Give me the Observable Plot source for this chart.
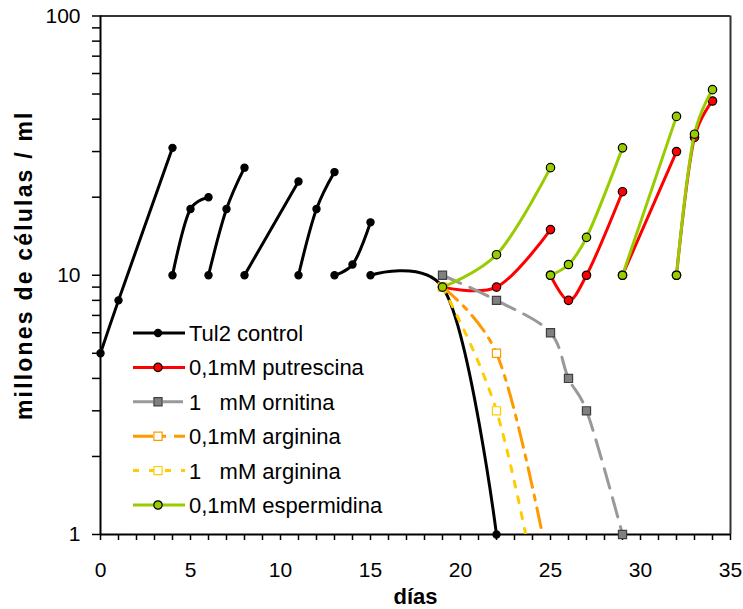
<!DOCTYPE html>
<html><head><meta charset="utf-8">
<script src="https://cdn.jsdelivr.net/npm/d3@7"></script>
<script src="https://cdn.jsdelivr.net/npm/@observablehq/plot@0.6"></script>
<style>
html,body{margin:0;padding:0;background:#fff;}
#wrap{position:relative;width:743px;height:609px;overflow:hidden;}
#legend{position:absolute;left:0;top:0;pointer-events:none;}
</style></head><body><div id="wrap"></div>
<script>
// ---- data ----
const legendNames = ["Tul2 control", "0,1mM putrescina", "1   mM ornitina", "0,1mM arginina", "1   mM arginina", "0,1mM espermidina"];
const xLabel = "días";
const yLabel = "millones de células / ml";
const xTickLabels = [0, 5, 10, 15, 20, 25, 30, 35];
const yTickLabels = [1, 10, 100];
const yTicks = [1,2,3,4,5,6,7,8,9,10,20,30,40,50,60,70,80,90,100];

const controlDays     = [0, 1, 4,  4, 5, 6,  6, 7, 8,  8, 11,  11, 12, 13,  13, 14, 15,  15, 19, 22];
const controlValues   = [5, 8, 31, 10, 18, 20, 10, 18, 26, 10, 23, 10, 18, 25, 10, 11, 16, 10, 9, 1];
const controlSegments = [0, 0, 0,  1, 1, 1,  2, 2, 2,  3, 3,   4, 4, 4,   5, 5, 5,   6, 6, 6];

const putrescinaDays     = [19, 22, 25,  25, 26, 27, 29,  29, 32,  32, 33, 34];
const putrescinaValues   = [9, 9, 15,    10, 8, 10, 21,   10, 30,  10, 34, 47];
const putrescinaSegments = [0, 0, 0,     1, 1, 1, 1,      2, 2,    3, 3, 3];

const ornitinaDays   = [19, 22, 25, 26, 27, 29];
const ornitinaValues = [10, 8, 6, 4, 3, 1];

const arginina01Days   = [19, 22, 25];
const arginina01Values = [9, 5, 0.7];

const arginina1Days   = [19, 22, 25];
const arginina1Values = [9, 3, 0.33];

const espermidinaDays     = [19, 22, 25,  25, 26, 27, 29,  29, 32,  32, 33, 34];
const espermidinaValues   = [9, 12, 26,   10, 11, 14, 31,  10, 41,  10, 35, 52];
const espermidinaSegments = [0, 0, 0,     1, 1, 1, 1,      2, 2,    3, 3, 3];

// ---- build tables ----
function table(days, values, segs) {
  return days.map((d, i) => ({day: d, value: values[i], seg: segs ? segs[i] : 0}));
}
const font = "'Liberation Sans', Arial, sans-serif";
const series = [
  {data: table(controlDays, controlValues, controlSegments), stroke: "#000000", width: 3, dash: null, symbol: "circle", r: 3.6, fill: "#000000", mstroke: "#000000"},
  {data: table(putrescinaDays, putrescinaValues, putrescinaSegments), stroke: "#ff0000", width: 3, dash: null, symbol: "circle", r: 4.2, fill: "#ff0000", mstroke: "#000000"},
  {data: table(ornitinaDays, ornitinaValues), stroke: "#999999", width: 3, dash: "20,10", symbol: "square", r: 4.6, fill: "#808080", mstroke: "#404040"},
  {data: table(arginina01Days, arginina01Values), stroke: "#ff9900", width: 3, dash: "20,8,5,8", symbol: "square", r: 4.6, fill: "#ffffff", mstroke: "#ff9900"},
  {data: table(arginina1Days, arginina1Values), stroke: "#ffcc00", width: 3, dash: "6,10", symbol: "square", r: 4.6, fill: "#ffffff", mstroke: "#ffcc00"},
  {data: table(espermidinaDays, espermidinaValues, espermidinaSegments), stroke: "#99cc00", width: 3, dash: null, symbol: "circle", r: 4.2, fill: "#99cc00", mstroke: "#000000"}
];

const marks = [
  Plot.ruleX([35], {stroke: "#333333", strokeWidth: 2}),
  Plot.ruleY([100], {stroke: "#333333", strokeWidth: 2}),
  Plot.axisY({ticks: yTicks, tickSize: 8, tickPadding: 12, strokeWidth: 1.5, label: null,
              tickFormat: d => yTickLabels.includes(d) ? String(d) : "", fontSize: 21}),
  Plot.axisX({ticks: d3.range(0, 36), tickSize: 6, tickPadding: 22, strokeWidth: 1.5, label: null,
              tickFormat: d => xTickLabels.includes(d) ? String(d) : "", fontSize: 21}),
  Plot.ruleX([0], {stroke: "#000", strokeWidth: 2}),
  Plot.ruleY([1], {stroke: "#000", strokeWidth: 2})
];
for (const s of series) {
  marks.push(Plot.line(s.data, {x: "day", y: "value", z: "seg", curve: "catmull-rom", tension: 0.25,
    stroke: s.stroke, strokeWidth: s.width, strokeDasharray: s.dash, clip: true}));
  marks.push(Plot.dot(s.data, {x: "day", y: "value", filter: d => d.value >= 1,
    symbol: s.symbol, r: s.r, fill: s.fill, stroke: s.mstroke, strokeWidth: 1.2}));
}
marks.push(Plot.text([yLabel], {text: d => d, frameAnchor: "left", dx: -76, dy: -10, rotate: -90,
  fontWeight: "bold", fontSize: 23, textAnchor: "middle", lineAnchor: "middle", fill: "#000"}));
marks.push(Plot.text([xLabel], {text: d => d, frameAnchor: "bottom", dy: 62,
  fontWeight: "bold", fontSize: 22, lineAnchor: "middle", fill: "#000"}));

const chart = Plot.plot({
  width: 743, height: 609,
  marginLeft: 100, marginRight: 13, marginTop: 15.5, marginBottom: 75,
  style: {fontFamily: font, fontSize: "21px", background: "#fff", color: "#000", overflow: "visible"},
  x: {domain: [0, 35], label: null},
  y: {type: "log", domain: [1, 100], label: null},
  marks
});
document.getElementById("wrap").appendChild(chart);
// letter spacing for the y-axis title
d3.select(chart).selectAll("text").filter(function() { return this.textContent === yLabel; })
  .style("letter-spacing", "2.2px");

// ---- legend (inside plot area, lower left) ----
const lg = d3.select("#wrap").append("svg").attr("id", "legend")
  .attr("width", 743).attr("height", 609);
const lx0 = 133, lx1 = 185, lmx = 158, ltx = 189, ly0 = 333, ldy = 34.4;
series.forEach((s, i) => {
  const y = ly0 + i * ldy;
  const g = lg.append("g");
  g.append("line").attr("x1", lx0).attr("x2", lx1).attr("y1", y).attr("y2", y)
    .attr("stroke", s.stroke).attr("stroke-width", s.width)
    .attr("stroke-dasharray", s.dash);
  const sym = s.symbol === "square" ? d3.symbolSquare : d3.symbolCircle;
  g.append("path").attr("d", d3.symbol(sym, Math.PI * s.r * s.r)())
    .attr("transform", `translate(${lmx},${y})`)
    .attr("fill", s.fill).attr("stroke", s.mstroke).attr("stroke-width", 1.2);
  g.append("text").attr("x", ltx).attr("y", y).attr("dy", "0.36em")
    .attr("font-family", font).attr("font-size", 22).attr("fill", "#000")
    .style("white-space", "pre").text(legendNames[i]);
});
</script></body></html>
